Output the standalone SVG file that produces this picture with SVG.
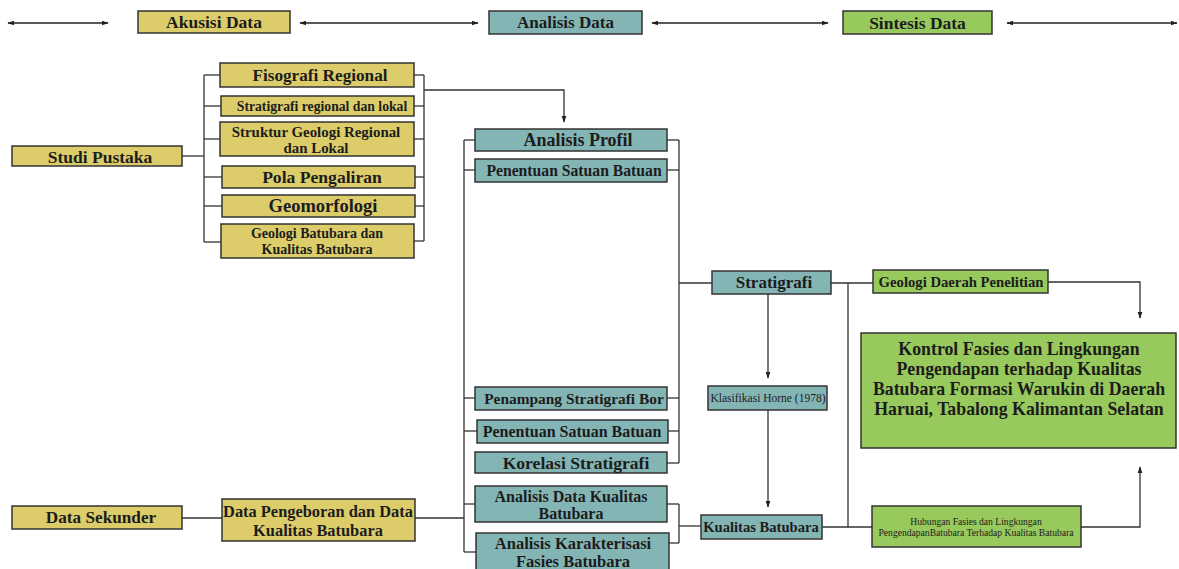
<svg xmlns="http://www.w3.org/2000/svg" width="1179" height="569" viewBox="0 0 1179 569">
<defs>
<marker id="ah" viewBox="0 0 10 10" refX="9" refY="5" markerWidth="7" markerHeight="7" orient="auto-start-reverse" markerUnits="userSpaceOnUse"><path d="M0,1.5 L10,5 L0,8.5 Z" fill="#222"/></marker>
<style>
.y{fill:#dccd6a;stroke:#333;stroke-width:1.5}
.t{fill:#84b5b5;stroke:#333;stroke-width:1.5}
.g{fill:#98c95c;stroke:#333;stroke-width:1.5}
text{font-family:"Liberation Serif","Times New Roman",serif;font-weight:bold;fill:#1c1c1c;text-anchor:middle;dominant-baseline:central}
.n{font-weight:normal}
.c line,.c polyline,.c path{stroke:#333;stroke-width:1.3;fill:none}
.h line{stroke:#222;stroke-width:1.3}
</style>
</defs>
<rect width="1179" height="569" fill="#fff"/>
<g class="h">
<line x1="8" y1="23" x2="108" y2="23" marker-start="url(#ah)" marker-end="url(#ah)"/>
<line x1="300" y1="23" x2="478" y2="23" marker-start="url(#ah)" marker-end="url(#ah)"/>
<line x1="652" y1="23" x2="828" y2="23" marker-start="url(#ah)" marker-end="url(#ah)"/>
<line x1="1007" y1="23" x2="1177" y2="23" marker-start="url(#ah)" marker-end="url(#ah)"/>
</g>
<g id="akusisi"><rect class="y" x="138" y="11" width="152" height="22"/><text x="214" y="22" font-size="17.5">Akusisi Data</text></g>
<g id="analisis"><rect class="t" x="489" y="11" width="153" height="23"/><text x="565.5" y="22.5" font-size="17">Analisis Data</text></g>
<g id="sintesis"><rect class="g" x="843" y="11" width="149" height="23"/><text x="917.5" y="22.5" font-size="17.5">Sintesis Data</text></g>

<g class="c" id="connectors">
<line x1="182" y1="156" x2="204" y2="156"/>
<line x1="204" y1="75" x2="204" y2="242"/>
<line x1="204" y1="75" x2="220" y2="75"/>
<line x1="204" y1="106" x2="221" y2="106"/>
<line x1="204" y1="139" x2="220" y2="139"/>
<line x1="204" y1="177" x2="222" y2="177"/>
<line x1="204" y1="206" x2="222" y2="206"/>
<line x1="204" y1="242" x2="221" y2="242"/>
<line x1="414" y1="75" x2="424" y2="75"/>
<line x1="414" y1="106" x2="424" y2="106"/>
<line x1="414" y1="139" x2="424" y2="139"/>
<line x1="415" y1="177" x2="424" y2="177"/>
<line x1="415" y1="206" x2="424" y2="206"/>
<line x1="414" y1="241" x2="424" y2="241"/>
<line x1="424" y1="75" x2="424" y2="241"/>
<polyline points="424,90 564,90 564,122" marker-end="url(#ah)"/>
<line x1="182" y1="518" x2="222" y2="518"/>
<line x1="415" y1="518" x2="464" y2="518"/>
<line x1="464" y1="140" x2="464" y2="552"/>
<line x1="464" y1="140" x2="475" y2="140"/>
<line x1="464" y1="170" x2="475" y2="170"/>
<line x1="464" y1="398" x2="475" y2="398"/>
<line x1="464" y1="431" x2="477" y2="431"/>
<line x1="464" y1="504" x2="475" y2="504"/>
<line x1="464" y1="552" x2="476" y2="552"/>
<line x1="667" y1="140" x2="679" y2="140"/>
<line x1="667" y1="170" x2="679" y2="170"/>
<line x1="667" y1="398" x2="679" y2="398"/>
<line x1="668" y1="431" x2="679" y2="431"/>
<line x1="667" y1="463" x2="679" y2="463"/>
<line x1="679" y1="140" x2="679" y2="463"/>
<line x1="679" y1="283" x2="712" y2="283"/>
<line x1="667" y1="504" x2="679" y2="504"/>
<line x1="669" y1="543" x2="679" y2="543"/>
<line x1="679" y1="504" x2="679" y2="543"/>
<line x1="679" y1="526" x2="701" y2="526"/>
<line x1="831" y1="283" x2="873" y2="283"/>
<line x1="848" y1="283" x2="848" y2="527"/>
<line x1="822" y1="527" x2="872" y2="527"/>
<line x1="768" y1="294" x2="768" y2="378" marker-end="url(#ah)"/>
<line x1="768" y1="410" x2="768" y2="507" marker-end="url(#ah)"/>
<polyline points="1048,282 1140,282 1140,318" marker-end="url(#ah)"/>
<polyline points="1081,527 1140,527 1140,467" marker-end="url(#ah)"/>
</g>

<g id="studi"><rect class="y" x="12" y="146" width="170" height="20"/><text x="100" y="156.5" font-size="17.5">Studi Pustaka</text></g>
<g id="fisografi"><rect class="y" x="220" y="63" width="194" height="24"/><text x="320" y="75" font-size="17.2">Fisografi Regional</text></g>
<g id="stratreg"><rect class="y" x="221" y="96" width="193" height="20"/><text x="322" y="106" font-size="13.7">Stratigrafi regional dan lokal</text></g>
<g id="struktur"><rect class="y" x="220" y="122" width="194" height="34"/><text x="316" y="131.5" font-size="14.9">Struktur Geologi Regional</text><text x="316" y="147.5" font-size="14.9">dan Lokal</text></g>
<g id="pola"><rect class="y" x="222" y="166" width="193" height="22"/><text x="322" y="177" font-size="17.6">Pola Pengaliran</text></g>
<g id="geomorf"><rect class="y" x="222" y="195" width="193" height="22"/><text x="323" y="205.5" font-size="18.5">Geomorfologi</text></g>
<g id="geobatu"><rect class="y" x="221" y="224" width="193" height="34"/><text x="317" y="233" font-size="14">Geologi Batubara dan</text><text x="317" y="249" font-size="14">Kualitas Batubara</text></g>

<g id="profil"><rect class="t" x="475" y="129" width="192" height="22"/><text x="578" y="140" font-size="18">Analisis Profil</text></g>
<g id="satuan1"><rect class="t" x="475" y="159" width="192" height="23"/><text x="574" y="170.5" font-size="15.7">Penentuan Satuan Batuan</text></g>
<g id="penampang"><rect class="t" x="475" y="387" width="192" height="23"/><text x="574" y="398" font-size="15.4">Penampang Stratigrafi Bor</text></g>
<g id="satuan2"><rect class="t" x="477" y="420" width="191" height="23"/><text x="572" y="431" font-size="16">Penentuan Satuan Batuan</text></g>
<g id="korelasi"><rect class="t" x="475" y="452" width="192" height="21"/><text x="576" y="462.5" font-size="17.6">Korelasi Stratigrafi</text></g>
<g id="kualitasdata"><rect class="t" x="475" y="486" width="192" height="36"/><text x="571" y="496" font-size="16">Analisis Data Kualitas</text><text x="571" y="513" font-size="16">Batubara</text></g>
<g id="fasies"><rect class="t" x="476" y="533" width="193" height="40"/><text x="573" y="543" font-size="16.5">Analisis Karakterisasi</text><text x="573" y="561" font-size="16.5">Fasies Batubara</text></g>

<g id="stratigrafi"><rect class="t" x="712" y="271" width="119" height="23"/><text x="774" y="282" font-size="17">Stratigrafi</text></g>
<g id="horne"><rect class="t" x="708" y="386" width="119" height="24"/><text class="n" x="768" y="398" font-size="11.5">Klasifikasi Horne (1978)</text></g>
<g id="kualitas"><rect class="t" x="701" y="515" width="121" height="24"/><text x="761" y="527" font-size="14.6">Kualitas Batubara</text></g>
<g id="geodaerah"><rect class="g" x="873" y="270" width="175" height="23"/><text x="961" y="281.5" font-size="14.7">Geologi Daerah Penelitian</text></g>
<g id="kontrol"><rect class="g" x="861" y="333" width="315" height="115"/>
<text x="1019" y="349" font-size="17.8">Kontrol Fasies dan Lingkungan</text>
<text x="1019" y="369" font-size="17.8">Pengendapan terhadap Kualitas</text>
<text x="1019" y="389" font-size="17.8">Batubara Formasi Warukin di Daerah</text>
<text x="1019" y="409" font-size="17.8">Haruai, Tabalong Kalimantan Selatan</text></g>
<g id="hubungan"><rect class="g" x="872" y="506" width="209" height="41"/><text class="n" x="976" y="521" font-size="9.6">Hubungan Fasies dan Lingkungan</text><text class="n" x="976" y="532" font-size="9.6">PengendapanBatubara Terhadap Kualitas Batubara</text></g>

<g id="sekunder"><rect class="y" x="12" y="506" width="170" height="23"/><text x="101" y="517.5" font-size="17.2">Data Sekunder</text></g>
<g id="pengeboran"><rect class="y" x="222" y="499" width="193" height="42"/><text x="318" y="511" font-size="16.4">Data Pengeboran dan Data</text><text x="318" y="530" font-size="16.4">Kualitas Batubara</text></g>
</svg>
